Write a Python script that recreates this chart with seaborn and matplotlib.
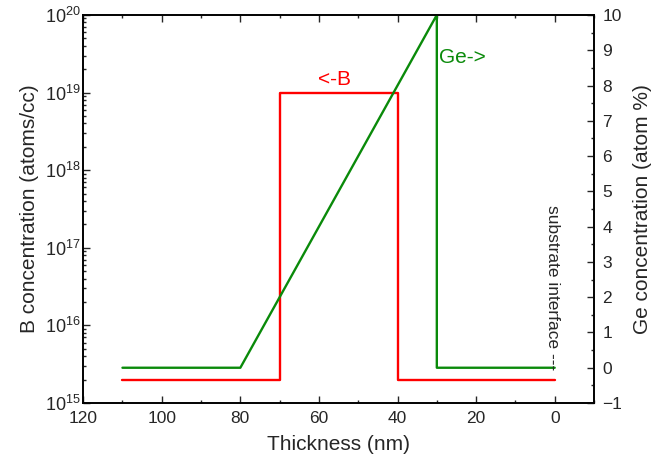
import matplotlib
matplotlib.use("Agg")
import matplotlib.pyplot as plt
import seaborn as sns
import pandas as pd
from matplotlib.ticker import LogLocator, MultipleLocator, FixedLocator, FixedFormatter

# ---- data ----
b_thickness = [110, 70, 70, 40, 40, 0]
b_conc = [2e15, 2e15, 1e19, 1e19, 2e15, 2e15]
ge_thickness = [110, 80, 30, 30, 0]
ge_conc = [0, 0, 10, 0, 0]
left_ticks = [1e15, 1e16, 1e17, 1e18, 1e19, 1e20]
left_ticklabels = ["$10^{15}$", "$10^{16}$", "$10^{17}$", "$10^{18}$", "$10^{19}$", "$10^{20}$"]
x_ticks = [120, 100, 80, 60, 40, 20, 0]
right_ticks = [-1, 0, 1, 2, 3, 4, 5, 6, 7, 8, 9, 10]

sns.set_style("ticks")
plt.rcParams['font.family'] = ['Liberation Sans', 'DejaVu Sans']
plt.rcParams['mathtext.fontset'] = 'custom'
plt.rcParams['mathtext.rm'] = 'Liberation Sans'
plt.rcParams['mathtext.it'] = 'Liberation Sans'
plt.rcParams['mathtext.default'] = 'regular'

RED = '#ff0000'
GREEN = '#0a8a0a'

df_b = pd.DataFrame({"t": b_thickness, "c": b_conc})
df_g = pd.DataFrame({"t": ge_thickness, "c": ge_conc})

fig = plt.figure(figsize=(6.6, 4.67), dpi=100)
ax = fig.add_axes([0.126, 0.137, 0.774, 0.831])
ax2 = ax.twinx()

sns.lineplot(data=df_b, x="t", y="c", ax=ax, sort=False, estimator=None,
             color=RED, linewidth=1.7)
sns.lineplot(data=df_g, x="t", y="c", ax=ax2, sort=False, estimator=None,
             color=GREEN, linewidth=1.7)

ax.set_yscale('log')
ax.set_ylim(1e15, 1e20)
ax.set_xlim(120, -10)
ax2.set_ylim(-1, 10)

ax.xaxis.set_major_locator(FixedLocator(x_ticks))
ax.xaxis.set_minor_locator(MultipleLocator(10))
ax.yaxis.set_major_locator(FixedLocator(left_ticks))
ax.yaxis.set_major_formatter(FixedFormatter(left_ticklabels))
ax.yaxis.set_minor_locator(LogLocator(base=10, subs=range(2, 10), numticks=20))
ax2.yaxis.set_major_locator(FixedLocator(right_ticks))
ax2.yaxis.set_minor_locator(MultipleLocator(0.5))

ax.tick_params(axis='both', which='major', direction='in', length=5, width=1,
               labelsize=12.5, top=True, right=False)
ax.tick_params(axis='both', which='minor', direction='in', length=2.5, width=1,
               top=True, right=False)
ax.tick_params(axis='x', which='major', pad=6)
ax.tick_params(axis='y', which='major', pad=2, labelsize=13)
ax2.tick_params(axis='y', which='major', direction='in', length=5, width=1,
                labelsize=12.5, pad=6)
ax2.tick_params(axis='y', which='minor', direction='in', length=2.5, width=1)

for a in (ax, ax2):
    for s in a.spines.values():
        s.set_linewidth(1.2)
        s.set_color('black')

ax.set_xlabel("Thickness (nm)", fontsize=15, labelpad=6)
ax.set_ylabel("B concentration (atoms/cc)", fontsize=15, labelpad=4)
ax2.set_ylabel("Ge concentration (atom %)", fontsize=15, labelpad=8)

ax.text(56, 1.12e19, "<-B", color=RED, fontsize=15, ha='center', va='bottom')
ax2.text(29.5, 8.8, "Ge->", color=GREEN, fontsize=15, ha='left', va='center')
ax2.text(0.6, 4.6, "substrate interface ---", rotation=270, fontsize=12.5,
         ha='center', va='top')

fig.savefig("out.png", dpi=100)
